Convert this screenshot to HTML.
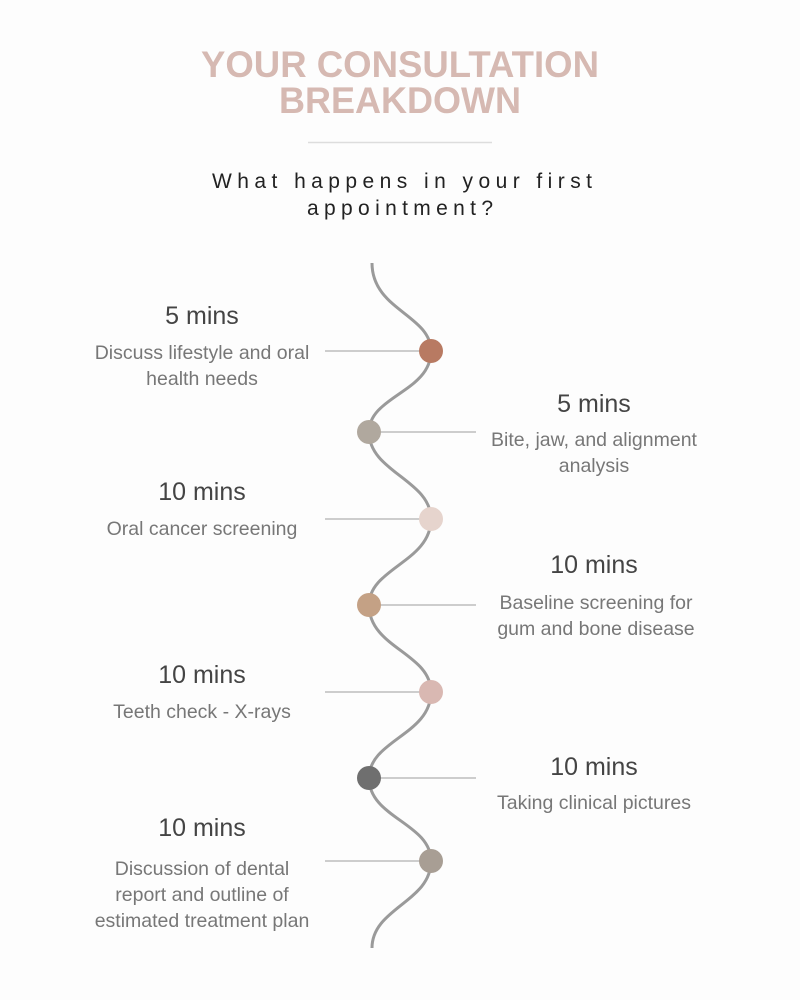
<!DOCTYPE html>
<html><head><meta charset="utf-8"><style>
html,body{margin:0;padding:0;background:#fdfdfd;}
svg{display:block;}
</style></head><body>
<svg width="800" height="1000" viewBox="0 0 800 1000" xmlns="http://www.w3.org/2000/svg">
<rect width="800" height="1000" fill="#fdfdfd"/>
<g font-family="Liberation Sans, sans-serif" text-anchor="middle">
<text x="400" y="77" font-size="37" font-weight="bold" fill="#d6b9b2" textLength="398" lengthAdjust="spacingAndGlyphs">YOUR CONSULTATION</text>
<text x="400" y="113" font-size="37" font-weight="bold" fill="#d6b9b2" textLength="242" lengthAdjust="spacingAndGlyphs">BREAKDOWN</text>
<line x1="308" y1="142.5" x2="492" y2="142.5" stroke="#ddd" stroke-width="1.5"/>
<text x="402" y="188" font-size="21" fill="#222" textLength="380">What happens in your first</text>
<text x="400" y="215" font-size="21" fill="#222" textLength="186">appointment?</text>
</g>
<path d="M372,263 C372,310 431,315 431,351 C431,392 369,396 369,432 C369,472 431,480 431,519 C431,562 369,568 369,605 C369,648 431,653 431,692 C431,735 369,740 369,778 C369,818 431,823 431,861 C431,902 372,908 372,948" fill="none" stroke="#9a9a9a" stroke-width="3"/>
<g stroke="#bdbdbd" stroke-width="1.5">
<line x1="325" y1="351" x2="431" y2="351"/>
<line x1="369" y1="432" x2="476" y2="432"/>
<line x1="325" y1="519" x2="431" y2="519"/>
<line x1="369" y1="605" x2="476" y2="605"/>
<line x1="325" y1="692" x2="431" y2="692"/>
<line x1="369" y1="778" x2="476" y2="778"/>
<line x1="325" y1="861" x2="431" y2="861"/>
</g>
<circle cx="431" cy="351" r="12" fill="#b87a62"/>
<circle cx="369" cy="432" r="12" fill="#b0a89e"/>
<circle cx="431" cy="519" r="12" fill="#e6d4cd"/>
<circle cx="369" cy="605" r="12" fill="#c4a185"/>
<circle cx="431" cy="692" r="12" fill="#d9b8b2"/>
<circle cx="369" cy="778" r="12" fill="#6f6f6f"/>
<circle cx="431" cy="861" r="12" fill="#a89e94"/>
<g font-family="Liberation Sans, sans-serif" text-anchor="middle">
<g font-size="25" fill="#444">
<text x="202" y="324">5 mins</text>
<text x="594" y="412">5 mins</text>
<text x="202" y="500">10 mins</text>
<text x="594" y="573">10 mins</text>
<text x="202" y="683">10 mins</text>
<text x="594" y="775">10 mins</text>
<text x="202" y="836">10 mins</text>
</g>
<g font-size="19.5" fill="#777">
<text x="202" y="359">Discuss lifestyle and oral</text>
<text x="202" y="385">health needs</text>
<text x="594" y="446">Bite, jaw, and alignment</text>
<text x="594" y="472">analysis</text>
<text x="202" y="535">Oral cancer screening</text>
<text x="596" y="609">Baseline screening for</text>
<text x="596" y="635">gum and bone disease</text>
<text x="202" y="718">Teeth check - X-rays</text>
<text x="594" y="809">Taking clinical pictures</text>
<text x="202" y="875">Discussion of dental</text>
<text x="202" y="901">report and outline of</text>
<text x="202" y="927">estimated treatment plan</text>
</g>
</g>
</svg>
</body></html>
